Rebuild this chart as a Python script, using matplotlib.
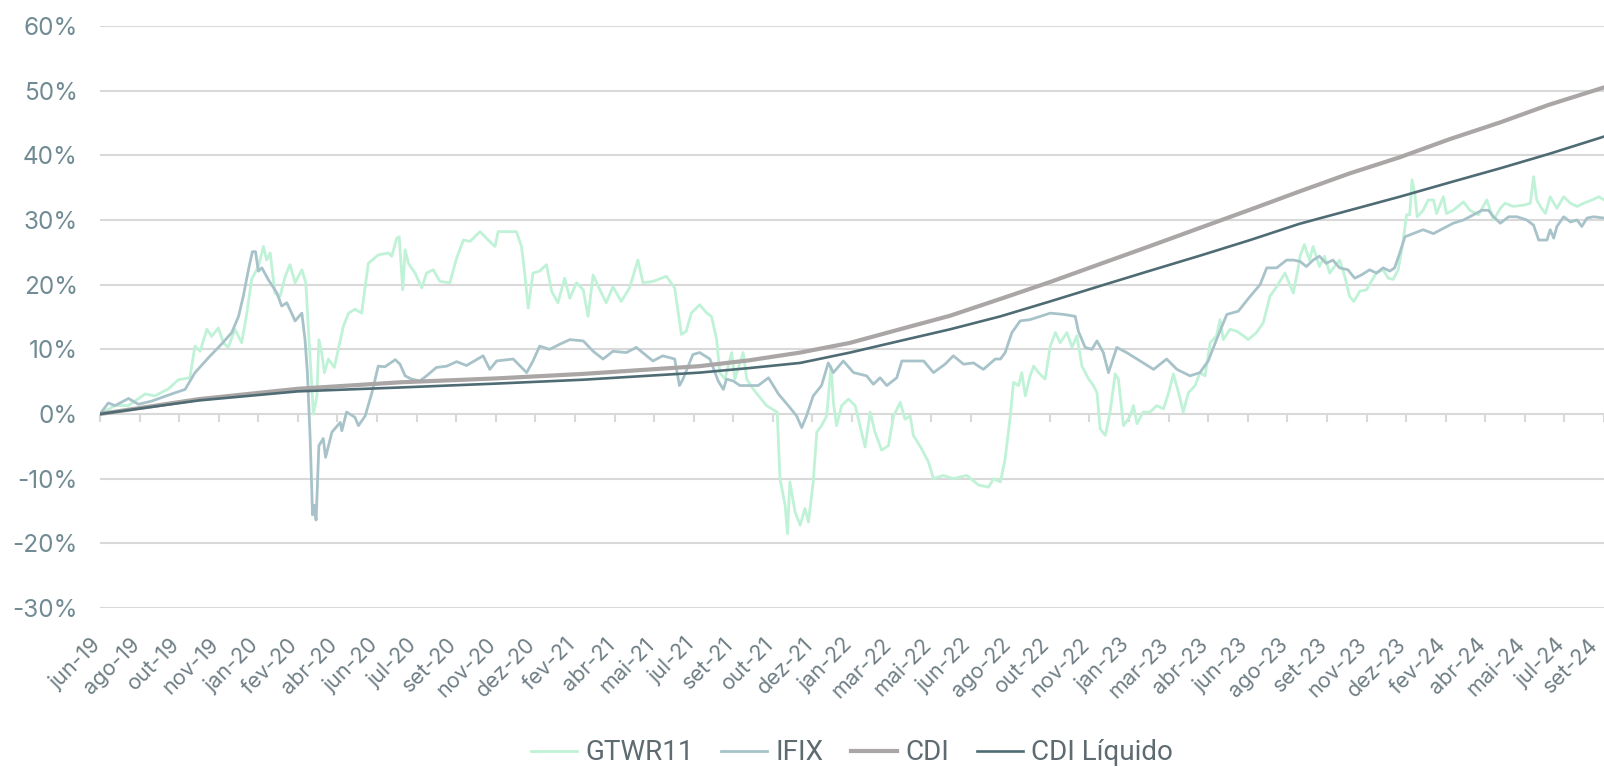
import matplotlib
matplotlib.use("Agg")
from matplotlib import pyplot as plt
from matplotlib import font_manager
from matplotlib import transforms

# x positions are in label-slot units (one slot = one tick label on the category axis)
tick_labels = ["jun-19", "ago-19", "out-19", "nov-19", "jan-20", "fev-20", "abr-20", "jun-20",
               "jul-20", "set-20", "nov-20", "dez-20", "fev-21", "abr-21", "mai-21", "jul-21",
               "set-21", "out-21", "dez-21", "jan-22", "mar-22", "mai-22", "jun-22", "ago-22",
               "out-22", "nov-22", "jan-23", "mar-23", "abr-23", "jun-23", "ago-23", "set-23",
               "nov-23", "dez-23", "fev-24", "abr-24", "mai-24", "jul-24", "set-24"]

yticks = [-30, -20, -10, 0, 10, 20, 30, 40, 50, 60]

gtwr11 = [(0, 0), (0.38, 1.3), (0.72, 1.3), (1.14, 3.1), (1.39, 2.8), (1.73, 3.9), (1.98, 5.3),
          (2.27, 5.6), (2.40, 10.5), (2.53, 9.7), (2.70, 13.1), (2.82, 12.0), (2.99, 13.3),
          (3.12, 11.0), (3.24, 10.3), (3.41, 13.1), (3.58, 11.0), (3.71, 15.6), (3.83, 20.8),
          (4.00, 22.8), (4.13, 25.9), (4.21, 23.8), (4.30, 24.9), (4.42, 18.7), (4.55, 18.2),
          (4.68, 21.3), (4.80, 23.1), (4.93, 20.3), (5.10, 22.3), (5.20, 20.3), (5.27, 12.6),
          (5.35, 4.4), (5.39, 0.0), (5.48, 2.8), (5.53, 11.5), (5.60, 9.5), (5.67, 6.4),
          (5.77, 8.5), (5.92, 7.2), (6.02, 10.0), (6.15, 13.6), (6.28, 15.6), (6.44, 16.2),
          (6.61, 15.6), (6.78, 23.3), (7.03, 24.6), (7.29, 24.9), (7.37, 24.4), (7.50, 27.2),
          (7.56, 27.4), (7.65, 19.2), (7.71, 25.4), (7.79, 23.3), (7.96, 21.8), (8.13, 19.5),
          (8.25, 21.8), (8.42, 22.3), (8.59, 20.5), (8.84, 20.3), (9.01, 24.1), (9.18, 26.9),
          (9.35, 26.7), (9.60, 28.2), (9.81, 26.9), (9.98, 25.9), (10.06, 28.2), (10.35, 28.2),
          (10.52, 28.2), (10.65, 25.9), (10.73, 21.8), (10.82, 16.4), (10.94, 21.8), (11.11, 22.1),
          (11.28, 23.1), (11.41, 19.0), (11.57, 17.2), (11.74, 21.0), (11.87, 17.9), (12.04, 20.3),
          (12.21, 19.2), (12.33, 15.1), (12.46, 21.5), (12.63, 19.2), (12.79, 17.2), (12.96, 19.7),
          (13.17, 17.4), (13.38, 19.5), (13.59, 23.8), (13.72, 20.3), (13.97, 20.5), (14.31, 21.3),
          (14.52, 19.5), (14.69, 12.3), (14.81, 12.8), (14.94, 15.6), (15.15, 16.9), (15.33, 15.6),
          (15.45, 15.1), (15.58, 11.5), (15.66, 6.4), (15.79, 5.4), (15.96, 9.5), (16.04, 5.4),
          (16.25, 9.5), (16.34, 5.4), (16.51, 3.8), (16.67, 2.6), (16.84, 1.3), (17.05, 0.5),
          (17.11, 0.3), (17.18, -10.0), (17.31, -14.1), (17.37, -18.5), (17.43, -10.5),
          (17.56, -15.1), (17.69, -17.2), (17.81, -14.6), (17.90, -16.7), (18.02, -10.5),
          (18.11, -2.8), (18.23, -1.8), (18.36, -0.3), (18.47, 7.4), (18.53, 1.8), (18.61, -1.8),
          (18.74, 1.3), (18.91, 2.3), (19.08, 1.3), (19.20, -1.8), (19.33, -5.1), (19.46, 0.3),
          (19.58, -2.8), (19.75, -5.6), (19.92, -4.9), (20.05, -0.3), (20.22, 1.8), (20.34, -0.8),
          (20.47, -0.3), (20.55, -3.3), (20.76, -5.4), (20.93, -7.4), (21.06, -10.0), (21.31, -9.5),
          (21.56, -10.0), (21.90, -9.5), (22.20, -11.0), (22.45, -11.3), (22.58, -10.0),
          (22.75, -10.5), (22.87, -6.9), (23.00, -0.3), (23.08, 4.9), (23.21, 4.4), (23.29, 6.4),
          (23.38, 2.8), (23.50, 5.9), (23.59, 7.4), (23.71, 6.4), (23.88, 5.4), (24.01, 10.5),
          (24.14, 12.6), (24.26, 11.0), (24.43, 12.6), (24.56, 10.3), (24.68, 12.1), (24.81, 7.4),
          (24.98, 5.4), (25.10, 4.4), (25.19, 3.3), (25.27, -2.3), (25.40, -3.3), (25.52, 0.3),
          (25.65, 6.2), (25.73, 5.4), (25.86, -1.8), (26.03, -0.3), (26.11, 1.3), (26.20, -1.5),
          (26.36, 0.3), (26.53, 0.3), (26.70, 1.3), (26.87, 0.8), (27.00, 3.3), (27.12, 6.2),
          (27.25, 3.3), (27.37, 0.3), (27.50, 3.3), (27.67, 4.4), (27.79, 6.4), (27.92, 5.9),
          (28.05, 11.0), (28.21, 12.1), (28.30, 14.6), (28.38, 11.5), (28.55, 13.1), (28.72, 12.8),
          (28.89, 12.1), (29.01, 11.5), (29.22, 12.6), (29.39, 14.1), (29.56, 18.2), (29.73, 19.7),
          (29.94, 21.8), (30.15, 18.7), (30.28, 22.8), (30.32, 24.4), (30.43, 26.2), (30.56, 23.8),
          (30.65, 25.9), (30.81, 22.8), (30.94, 24.4), (31.07, 21.8), (31.19, 22.8), (31.32, 23.8),
          (31.45, 21.3), (31.57, 18.2), (31.68, 17.4), (31.83, 19.0), (32.00, 19.2), (32.12, 20.5),
          (32.25, 21.8), (32.42, 22.3), (32.55, 21.0), (32.67, 20.8), (32.80, 22.3), (32.93, 26.9),
          (33.01, 30.8), (33.09, 30.8), (33.15, 36.2), (33.22, 34.1), (33.28, 30.5), (33.43, 31.5),
          (33.56, 33.1), (33.69, 33.1), (33.77, 31.0), (33.94, 33.6), (34.02, 31.0), (34.19, 31.5),
          (34.45, 32.8), (34.61, 31.5), (34.83, 30.8), (35.04, 33.1), (35.21, 30.0), (35.38, 31.8),
          (35.50, 32.6), (35.71, 32.1), (35.97, 32.3), (36.14, 32.6), (36.22, 36.7), (36.30, 33.1),
          (36.39, 32.1), (36.52, 31.0), (36.64, 33.6), (36.81, 31.8), (36.98, 33.6), (37.15, 32.6),
          (37.32, 32.1), (37.49, 32.6), (37.70, 33.1), (37.87, 33.6), (38.00, 33.1)]

ifix = [(0, 0), (0.21, 1.7), (0.38, 1.3), (0.72, 2.4), (0.97, 1.5), (1.31, 2.0), (1.81, 3.1),
        (2.15, 3.8), (2.40, 6.4), (2.74, 8.7), (3.07, 10.8), (3.33, 12.6), (3.50, 15.1),
        (3.62, 18.2), (3.75, 22.3), (3.85, 25.1), (3.93, 25.1), (4.00, 22.1), (4.09, 22.6),
        (4.25, 20.8), (4.47, 18.7), (4.59, 16.7), (4.72, 17.2), (4.93, 14.4), (5.10, 15.6),
        (5.18, 11.5), (5.24, 6.4), (5.31, -3.8), (5.37, -15.6), (5.41, -14.1), (5.46, -16.4),
        (5.53, -4.9), (5.64, -3.8), (5.70, -6.7), (5.86, -2.8), (6.07, -1.3), (6.11, -2.6),
        (6.23, 0.3), (6.44, -0.5), (6.53, -1.8), (6.70, -0.3), (6.87, 3.3), (7.03, 7.4),
        (7.20, 7.3), (7.46, 8.4), (7.58, 7.7), (7.71, 5.9), (7.87, 5.4), (8.08, 5.1), (8.25, 5.9),
        (8.50, 7.2), (8.76, 7.4), (9.01, 8.1), (9.26, 7.5), (9.68, 9.0), (9.85, 6.9), (10.02, 8.2),
        (10.44, 8.5), (10.78, 6.4), (10.94, 8.2), (11.11, 10.5), (11.36, 10.0), (11.62, 10.8),
        (11.87, 11.5), (12.21, 11.3), (12.46, 9.7), (12.71, 8.5), (12.96, 9.7), (13.30, 9.5),
        (13.55, 10.3), (13.97, 8.2), (14.22, 9.0), (14.52, 8.5), (14.64, 4.4), (14.73, 5.4),
        (14.98, 9.2), (15.15, 9.5), (15.41, 8.5), (15.62, 5.1), (15.75, 3.8), (15.83, 5.4),
        (16.00, 5.1), (16.17, 4.4), (16.42, 4.4), (16.63, 4.4), (16.89, 5.6), (17.14, 3.1),
        (17.39, 1.3), (17.60, -0.3), (17.73, -2.1), (17.85, -0.3), (18.02, 2.8), (18.23, 4.4),
        (18.40, 7.9), (18.53, 6.4), (18.78, 8.2), (19.04, 6.4), (19.37, 5.9), (19.54, 4.6),
        (19.71, 5.6), (19.88, 4.4), (20.13, 5.6), (20.26, 8.2), (20.55, 8.2), (20.81, 8.2),
        (21.06, 6.4), (21.35, 7.7), (21.56, 9.0), (21.82, 7.7), (22.07, 7.9), (22.32, 6.9),
        (22.62, 8.5), (22.75, 8.5), (22.87, 9.5), (23.04, 12.6), (23.25, 14.4), (23.50, 14.6),
        (23.76, 15.1), (24.01, 15.6), (24.35, 15.4), (24.64, 15.1), (24.72, 12.8), (24.89, 10.3),
        (25.06, 10.0), (25.19, 11.3), (25.35, 9.5), (25.48, 6.4), (25.69, 10.3), (25.94, 9.5),
        (26.28, 8.2), (26.62, 6.9), (26.95, 8.5), (27.21, 6.9), (27.54, 5.9), (27.79, 6.4),
        (28.00, 8.2), (28.21, 11.5), (28.47, 15.4), (28.76, 15.9), (29.06, 18.2), (29.31, 20.0),
        (29.48, 22.6), (29.73, 22.6), (29.98, 23.8), (30.15, 23.8), (30.32, 23.6), (30.48, 22.8),
        (30.65, 23.8), (30.81, 24.4), (30.98, 23.3), (31.15, 23.8), (31.32, 22.6), (31.53, 22.3),
        (31.70, 21.0), (31.87, 21.5), (32.08, 22.3), (32.25, 21.8), (32.42, 22.6), (32.59, 22.1),
        (32.71, 22.6), (32.84, 24.9), (32.97, 27.4), (33.18, 27.9), (33.43, 28.5), (33.69, 27.9),
        (33.94, 28.7), (34.19, 29.5), (34.45, 30.0), (34.70, 30.8), (34.91, 31.5), (35.08, 31.5),
        (35.21, 30.5), (35.38, 29.5), (35.59, 30.5), (35.80, 30.5), (36.05, 30.0), (36.22, 29.2),
        (36.35, 26.9), (36.56, 26.9), (36.64, 28.5), (36.73, 27.2), (36.81, 29.0), (36.98, 30.5),
        (37.15, 29.7), (37.32, 30.0), (37.44, 29.0), (37.57, 30.3), (37.74, 30.5), (38.00, 30.3)]

cdi = [(0, 0), (2.5, 2.3), (5.0, 3.9), (7.58, 4.9), (10.0, 5.5), (12.2, 6.2), (15.15, 7.4),
       (16.4, 8.3), (17.69, 9.5), (18.95, 11.0), (20.21, 13.1), (21.48, 15.2), (22.75, 17.8),
       (24.0, 20.4), (25.27, 23.2), (26.5, 25.9), (27.8, 28.8), (29.06, 31.6), (30.3, 34.4),
       (31.57, 37.2), (32.84, 39.7), (34.1, 42.5), (35.38, 45.1), (36.6, 47.8), (38.0, 50.5)]

cdi_liquido = [(0, 0), (2.5, 2.1), (5.0, 3.5), (7.58, 4.1), (10.0, 4.7), (12.2, 5.3), (15.15, 6.4),
               (16.4, 7.1), (17.69, 7.9), (18.95, 9.5), (20.21, 11.3), (21.48, 13.1), (22.75, 15.1),
               (24.0, 17.4), (25.27, 19.8), (26.5, 22.1), (27.8, 24.5), (29.06, 26.9), (30.3, 29.4),
               (31.57, 31.5), (32.84, 33.6), (34.1, 35.8), (35.38, 38.0), (36.6, 40.2), (38.0, 42.9)]

series = [("GTWR11", gtwr11, "#bff2d6", 2.0),
          ("IFIX", ifix, "#a7c3c9", 2.0),
          ("CDI", cdi, "#aaa6a6", 3.0),
          ("CDI Líquido", cdi_liquido, "#4f6b74", 1.9)]

installed = {f.name for f in font_manager.fontManager.ttflist}
tick_font = "Inter" if "Inter" in installed else "DejaVu Sans"
legend_font = "Liberation Sans Narrow" if "Liberation Sans Narrow" in installed else "Roboto"
plt.rcParams["font.family"] = [tick_font, "DejaVu Sans"]

fig = plt.figure(figsize=(16.04, 7.67), dpi=100)
ax = fig.add_axes([100 / 1604, 1 - 608 / 767, 1 - 100 / 1604, (608 - 26) / 767])

for name, pts, color, lw in series:
    xs = [p[0] for p in pts]
    ys = [p[1] for p in pts]
    ax.plot(xs, ys, color=color, lw=lw, label=name, solid_joinstyle="round", zorder=3)

ax.set_xlim(0, len(tick_labels) - 1)
ax.set_ylim(yticks[0], yticks[-1])

for s in ax.spines.values():
    s.set_visible(False)

ax.set_yticks(yticks)
ax.set_yticklabels([f"{v}%" for v in yticks])
ax.yaxis.grid(True, color="#d9d9d9", lw=1.5, zorder=0)
ax.tick_params(axis="y", length=0, pad=16, labelsize=17.5, labelcolor="#718b94")

# category axis crosses at 0%, tick marks hang below it
xt = list(range(len(tick_labels)))
ax.plot(xt, [0] * len(xt), ls="none", marker=3, ms=6, mew=1.5, color="#d9d9d9", zorder=1,
        clip_on=False)

ax.set_xticks(xt)
ax.set_xticklabels(tick_labels, rotation=45, ha="right", va="center", rotation_mode="anchor")
ax.tick_params(axis="x", length=0, pad=24, labelsize=15.5, labelcolor="#6f7f85")
xlabs = ax.get_xticklabels()
for i, lab in enumerate(xlabs):
    dx = -9 if i == len(xlabs) - 1 else -3   # keep the last label inside the figure
    lab.set_transform(lab.get_transform() + transforms.ScaledTranslation(dx / 100, 0, fig.dpi_scale_trans))

leg = fig.legend(loc="center", bbox_to_anchor=(852 / 1604, 1 - 753 / 767), ncol=4,
                 frameon=False, handlelength=1.65, handletextpad=0.3, columnspacing=1.0,
                 prop={"family": legend_font, "size": 20})
for t in leg.get_texts():
    t.set_color("#5e6c71")

fig.savefig("out.png", dpi=100)
